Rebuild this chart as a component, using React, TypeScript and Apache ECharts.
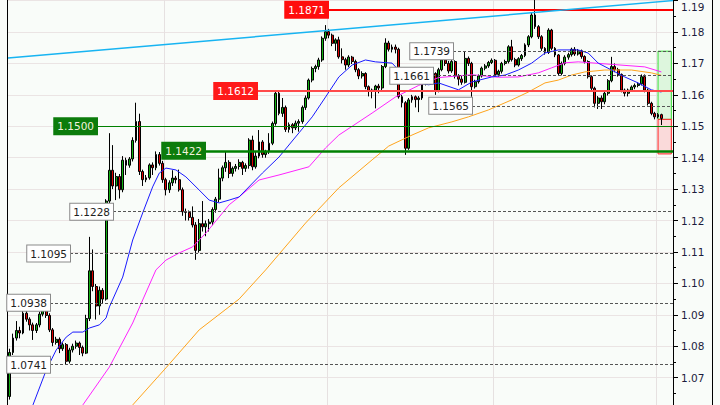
import React, { useEffect, useRef } from 'react';
import * as echarts from 'echarts';

// [open, close, low, high]
const candles: number[][] = [
  [1.0640, 1.0780, 1.0630, 1.0792], [1.0780, 1.0826, 1.0772, 1.0840], [1.0826, 1.0850, 1.0818, 1.0880], [1.0850, 1.0842, 1.0825, 1.0862],
  [1.0842, 1.0905, 1.0838, 1.0915], [1.0905, 1.0886, 1.0878, 1.0915], [1.0886, 1.0868, 1.0850, 1.0892], [1.0868, 1.0850, 1.0820, 1.0875],
  [1.0850, 1.0868, 1.0842, 1.0874], [1.0868, 1.0902, 1.0860, 1.0910], [1.0902, 1.0915, 1.0895, 1.0935], [1.0915, 1.0898, 1.0890, 1.0938],
  [1.0898, 1.0852, 1.0845, 1.0905], [1.0852, 1.0812, 1.0800, 1.0858], [1.0812, 1.0822, 1.0805, 1.0830], [1.0822, 1.0792, 1.0778, 1.0828],
  [1.0792, 1.0805, 1.0785, 1.0812], [1.0805, 1.0752, 1.0741, 1.0810], [1.0752, 1.0788, 1.0745, 1.0795], [1.0788, 1.0800, 1.0780, 1.0808],
  [1.0800, 1.0810, 1.0792, 1.0818], [1.0810, 1.0796, 1.0772, 1.0815], [1.0796, 1.0778, 1.0768, 1.0802], [1.0778, 1.0888, 1.0775, 1.0900],
  [1.0888, 1.1040, 1.0880, 1.1148], [1.1040, 1.0990, 1.0975, 1.1108], [1.0990, 1.0928, 1.0885, 1.0998], [1.0928, 1.0978, 1.0900, 1.0990],
  [1.0978, 1.0950, 1.0935, 1.0985], [1.0950, 1.1262, 1.0945, 1.1268], [1.1262, 1.1360, 1.1255, 1.1478], [1.1360, 1.1310, 1.1300, 1.1440],
  [1.1310, 1.1340, 1.1265, 1.1352], [1.1340, 1.1298, 1.1270, 1.1348], [1.1298, 1.1392, 1.1290, 1.1405], [1.1392, 1.1376, 1.1345, 1.1400],
  [1.1376, 1.1396, 1.1368, 1.1402], [1.1396, 1.1455, 1.1388, 1.1465], [1.1455, 1.1515, 1.1448, 1.1575], [1.1515, 1.1356, 1.1345, 1.1540],
  [1.1356, 1.1330, 1.1310, 1.1362], [1.1330, 1.1336, 1.1322, 1.1345], [1.1336, 1.1377, 1.1330, 1.1382], [1.1377, 1.1368, 1.1345, 1.1385],
  [1.1368, 1.1410, 1.1360, 1.1420], [1.1410, 1.1382, 1.1375, 1.1418], [1.1382, 1.1330, 1.1320, 1.1390], [1.1330, 1.1298, 1.1280, 1.1336],
  [1.1298, 1.1320, 1.1288, 1.1328], [1.1320, 1.1335, 1.1310, 1.1360], [1.1335, 1.1330, 1.1318, 1.1342], [1.1330, 1.1298, 1.1292, 1.1362],
  [1.1298, 1.1228, 1.1215, 1.1305], [1.1228, 1.1226, 1.1200, 1.1238], [1.1226, 1.1210, 1.1200, 1.1232], [1.1210, 1.1186, 1.1178, 1.1245],
  [1.1186, 1.1105, 1.1075, 1.1195], [1.1105, 1.1190, 1.1098, 1.1205], [1.1190, 1.1180, 1.1165, 1.1262], [1.1180, 1.1190, 1.1150, 1.1200],
  [1.1190, 1.1195, 1.1165, 1.1205], [1.1195, 1.1235, 1.1185, 1.1242], [1.1235, 1.1268, 1.1225, 1.1275], [1.1268, 1.1335, 1.1258, 1.1365],
  [1.1335, 1.1368, 1.1325, 1.1375], [1.1368, 1.1385, 1.1355, 1.1420], [1.1385, 1.1350, 1.1335, 1.1392], [1.1350, 1.1366, 1.1340, 1.1372],
  [1.1366, 1.1372, 1.1356, 1.1380], [1.1372, 1.1385, 1.1362, 1.1395], [1.1385, 1.1366, 1.1345, 1.1390], [1.1366, 1.1375, 1.1355, 1.1382],
  [1.1375, 1.1456, 1.1365, 1.1462], [1.1456, 1.1371, 1.1360, 1.1470], [1.1371, 1.1405, 1.1365, 1.1418], [1.1405, 1.1450, 1.1398, 1.1488],
  [1.1450, 1.1410, 1.1400, 1.1456], [1.1410, 1.1419, 1.1400, 1.1425], [1.1419, 1.1446, 1.1412, 1.1478], [1.1446, 1.1509, 1.1440, 1.1515],
  [1.1509, 1.1605, 1.1502, 1.1612], [1.1605, 1.1541, 1.1535, 1.1612], [1.1541, 1.1560, 1.1530, 1.1590], [1.1560, 1.1490, 1.1482, 1.1566],
  [1.1490, 1.1505, 1.1480, 1.1512], [1.1505, 1.1495, 1.1478, 1.1510], [1.1495, 1.1510, 1.1488, 1.1518], [1.1510, 1.1515, 1.1483, 1.1522],
  [1.1515, 1.1560, 1.1508, 1.1566], [1.1560, 1.1590, 1.1552, 1.1598], [1.1590, 1.1647, 1.1585, 1.1652], [1.1647, 1.1684, 1.1640, 1.1690],
  [1.1684, 1.1690, 1.1672, 1.1696], [1.1690, 1.1711, 1.1680, 1.1718], [1.1711, 1.1780, 1.1705, 1.1786], [1.1780, 1.1801, 1.1772, 1.1822],
  [1.1801, 1.1790, 1.1780, 1.1810], [1.1790, 1.1764, 1.1755, 1.1795], [1.1764, 1.1775, 1.1740, 1.1780], [1.1775, 1.1721, 1.1715, 1.1785],
  [1.1721, 1.1712, 1.1700, 1.1748], [1.1712, 1.1695, 1.1680, 1.1718], [1.1695, 1.1720, 1.1688, 1.1726], [1.1720, 1.1706, 1.1698, 1.1724],
  [1.1706, 1.1680, 1.1672, 1.1712], [1.1680, 1.1660, 1.1650, 1.1685], [1.1660, 1.1668, 1.1652, 1.1675], [1.1668, 1.1626, 1.1618, 1.1672],
  [1.1626, 1.1612, 1.1595, 1.1630], [1.1612, 1.1615, 1.1589, 1.1620], [1.1615, 1.1628, 1.1557, 1.1632], [1.1628, 1.1622, 1.1605, 1.1635],
  [1.1622, 1.1690, 1.1615, 1.1695], [1.1690, 1.1765, 1.1685, 1.1780], [1.1765, 1.1745, 1.1738, 1.1772], [1.1745, 1.1752, 1.1735, 1.1760],
  [1.1752, 1.1745, 1.1732, 1.1760], [1.1745, 1.1594, 1.1588, 1.1750], [1.1594, 1.1575, 1.1560, 1.1600], [1.1575, 1.1430, 1.1409, 1.1580],
  [1.1430, 1.1584, 1.1425, 1.1590], [1.1584, 1.1594, 1.1575, 1.1600], [1.1594, 1.1585, 1.1560, 1.1598], [1.1585, 1.1590, 1.1545, 1.1596],
  [1.1590, 1.1637, 1.1584, 1.1642], [1.1637, 1.1679, 1.1630, 1.1685], [1.1679, 1.1660, 1.1655, 1.1684], [1.1660, 1.1668, 1.1650, 1.1674],
  [1.1668, 1.1612, 1.1600, 1.1672], [1.1612, 1.1680, 1.1608, 1.1686], [1.1680, 1.1711, 1.1675, 1.1720], [1.1711, 1.1700, 1.1692, 1.1716],
  [1.1700, 1.1676, 1.1668, 1.1708], [1.1676, 1.1706, 1.1670, 1.1712], [1.1706, 1.1660, 1.1652, 1.1710], [1.1660, 1.1650, 1.1630, 1.1666],
  [1.1650, 1.1640, 1.1632, 1.1660], [1.1640, 1.1716, 1.1636, 1.1737], [1.1716, 1.1700, 1.1692, 1.1722], [1.1700, 1.1626, 1.1594, 1.1705],
  [1.1626, 1.1642, 1.1620, 1.1648], [1.1642, 1.1660, 1.1636, 1.1665], [1.1660, 1.1685, 1.1655, 1.1690], [1.1685, 1.1692, 1.1678, 1.1698],
  [1.1692, 1.1703, 1.1686, 1.1708], [1.1703, 1.1710, 1.1698, 1.1716], [1.1710, 1.1665, 1.1660, 1.1714], [1.1665, 1.1675, 1.1658, 1.1680],
  [1.1675, 1.1700, 1.1668, 1.1705], [1.1700, 1.1706, 1.1694, 1.1712], [1.1706, 1.1753, 1.1700, 1.1758], [1.1753, 1.1712, 1.1706, 1.1775],
  [1.1712, 1.1695, 1.1688, 1.1718], [1.1695, 1.1715, 1.1690, 1.1720], [1.1715, 1.1725, 1.1708, 1.1730], [1.1725, 1.1759, 1.1720, 1.1764],
  [1.1759, 1.1785, 1.1752, 1.1790], [1.1785, 1.1854, 1.1780, 1.1862], [1.1854, 1.1817, 1.1810, 1.1910], [1.1817, 1.1785, 1.1778, 1.1822],
  [1.1785, 1.1748, 1.1740, 1.1790], [1.1748, 1.1735, 1.1728, 1.1752], [1.1735, 1.1806, 1.1730, 1.1812], [1.1806, 1.1748, 1.1742, 1.1810],
  [1.1748, 1.1727, 1.1720, 1.1752], [1.1727, 1.1668, 1.1660, 1.1730], [1.1668, 1.1700, 1.1662, 1.1706], [1.1700, 1.1720, 1.1694, 1.1726],
  [1.1720, 1.1728, 1.1712, 1.1734], [1.1728, 1.1745, 1.1722, 1.1750], [1.1745, 1.1730, 1.1724, 1.1752], [1.1730, 1.1740, 1.1725, 1.1746],
  [1.1740, 1.1722, 1.1715, 1.1744], [1.1722, 1.1706, 1.1700, 1.1726], [1.1706, 1.1658, 1.1652, 1.1710], [1.1658, 1.1621, 1.1615, 1.1662],
  [1.1621, 1.1573, 1.1560, 1.1626], [1.1573, 1.1590, 1.1555, 1.1596], [1.1590, 1.1578, 1.1555, 1.1598], [1.1578, 1.1605, 1.1570, 1.1610],
  [1.1605, 1.1645, 1.1598, 1.1650], [1.1645, 1.1690, 1.1640, 1.1721], [1.1690, 1.1680, 1.1672, 1.1700], [1.1680, 1.1665, 1.1658, 1.1686],
  [1.1665, 1.1615, 1.1608, 1.1668], [1.1615, 1.1605, 1.1595, 1.1620], [1.1605, 1.1615, 1.1595, 1.1620], [1.1615, 1.1625, 1.1610, 1.1630],
  [1.1625, 1.1630, 1.1618, 1.1636], [1.1630, 1.1635, 1.1624, 1.1640], [1.1635, 1.1658, 1.1630, 1.1665], [1.1658, 1.1615, 1.1608, 1.1665],
  [1.1615, 1.1573, 1.1566, 1.1620], [1.1573, 1.1541, 1.1535, 1.1578], [1.1541, 1.1530, 1.1522, 1.1546], [1.1530, 1.1537, 1.1525, 1.1542],
  [1.1537, 1.1525, 1.1504, 1.1540],
];

const slotCount = 200;

// moving averages, sampled along the bars (bar index, price)
const blueIdx = [7, 11, 14, 17, 19, 22, 24, 27, 29, 30, 34, 37, 40, 43, 45, 47, 50, 53, 57, 60, 63, 66, 69, 76, 81, 87, 91, 95, 99, 103, 107, 110, 115, 119, 123, 126, 129, 135, 139, 145, 149, 153, 157, 161, 165, 171, 174, 177, 181, 185, 189, 193, 196];
const blueVal = [1.0613, 1.0724, 1.0788, 1.0829, 1.0845, 1.0845, 1.0858, 1.0868, 1.0890, 1.0925, 1.1020, 1.1138, 1.1224, 1.1307, 1.1351, 1.1367, 1.1361, 1.1339, 1.1297, 1.1265, 1.1256, 1.1265, 1.1275, 1.1351, 1.1402, 1.1479, 1.1530, 1.1593, 1.1657, 1.1695, 1.1711, 1.1705, 1.1701, 1.1657, 1.1638, 1.1632, 1.1638, 1.1616, 1.1641, 1.1657, 1.1663, 1.1679, 1.1701, 1.1733, 1.1743, 1.1743, 1.1733, 1.1701, 1.1679, 1.1657, 1.1638, 1.1616, 1.1609];
const magentaIdx = [22, 30, 37, 40, 44, 47, 51, 55, 59, 63, 66, 69, 75, 81, 90, 95, 99, 103, 109, 116, 123, 129, 139, 147, 153, 159, 163, 167, 171, 181, 191, 196];
const magentaVal = [1.0613, 1.0734, 1.0874, 1.0947, 1.1043, 1.1074, 1.1097, 1.1116, 1.1160, 1.1211, 1.1250, 1.1275, 1.1329, 1.1345, 1.1371, 1.1431, 1.1472, 1.1500, 1.1542, 1.1593, 1.1630, 1.1655, 1.1664, 1.1656, 1.1657, 1.1670, 1.1686, 1.1702, 1.1705, 1.1697, 1.1689, 1.1673];
const orangeIdx = [37, 47, 57, 69, 77, 89, 99, 109, 114, 121, 126, 133, 138, 144, 151, 156, 161, 165, 169, 173, 179, 187, 193, 196];
const orangeVal = [1.0613, 1.0731, 1.0852, 1.0950, 1.1043, 1.1192, 1.1304, 1.1393, 1.1437, 1.1472, 1.1495, 1.1514, 1.1530, 1.1552, 1.1584, 1.1609, 1.1638, 1.1647, 1.1663, 1.1673, 1.1679, 1.1679, 1.1670, 1.1662];

// horizontal levels
const levels = [1.1871, 1.1612, 1.1500, 1.1422, 1.1739, 1.1661, 1.1565, 1.1228, 1.1095, 1.0938, 1.0741];
const levelKinds = ['red', 'redLight', 'green', 'greenBold', 'dash', 'dash', 'dash', 'dash', 'dash', 'dash', 'dash'];
const levelStartX = [328, 257, 97, 205, 453, 433, 472, 113, 70, 50, 50];

const trendLine = [1.1717, 1.1900];
const greenZone = [1.1739, 1.1522];
const redZone = [1.1522, 1.1412];

const yMin = 1.06;
const yMax = 1.20;
const yStep = 0.01;
const vGridSlots = [47, 96, 146, 195];

const PLOT_LEFT = 8;
const PLOT_RIGHT = 673;
const FONT = 'DejaVu Sans';

const kindStyle: Record<string, any> = {
  red: { line: { color: '#ff0000', width: 2, type: 'solid' }, bg: '#ff0d0d', fg: '#ffffff', border: '#ff0d0d' },
  redLight: { line: { color: '#ff4a4a', width: 2, type: 'solid' }, bg: '#ff1a1a', fg: '#ffffff', border: '#ff1a1a' },
  green: { line: { color: '#008000', width: 1, type: 'solid' }, bg: '#0c7c0c', fg: '#f2f2dc', border: '#0c7c0c' },
  greenBold: { line: { color: '#008000', width: 2.5, type: 'solid' }, bg: '#0c7c0c', fg: '#f2f2dc', border: '#0c7c0c' },
  dash: { line: { color: '#555555', width: 1, type: [3, 2] }, bg: '#ffffff', fg: '#222222', border: '#8a8a8a' },
};

function sparse(idx: number[], val: number[]): (number | null)[] {
  const arr: (number | null)[] = new Array(slotCount).fill(null);
  idx.forEach((i, k) => { arr[i] = val[k]; });
  return arr;
}

export default function App() {
  const ref = useRef<HTMLDivElement>(null);

  useEffect(() => {
    if (!ref.current) return;
    const chart = echarts.init(ref.current, null, { renderer: 'svg' });
    const slots = Array.from({ length: slotCount }, (_, i) => String(i));
    const lastSlot = String(slotCount - 1);

    const levelLines = levels.map((v, k) => {
      const st = kindStyle[levelKinds[k]];
      return [
        {
          xAxis: '0', yAxis: v, x: levelStartX[k],
          lineStyle: st.line,
          label: {
            show: true, position: 'start', distance: 0, formatter: v.toFixed(4),
            backgroundColor: st.bg, color: st.fg, borderColor: st.border, borderWidth: 1,
            padding: [2, 3, 1, 3], fontSize: 10.5, fontFamily: FONT, lineHeight: 13,
          },
        },
        { xAxis: lastSlot, yAxis: v, x: PLOT_RIGHT },
      ];
    });

    const trend = [
      { xAxis: '0', yAxis: trendLine[0], x: PLOT_LEFT, lineStyle: { color: '#17b4f2', width: 1.5, type: 'solid' }, label: { show: false } },
      { xAxis: lastSlot, yAxis: trendLine[1], x: PLOT_RIGHT },
    ];

    const option: any = {
      animation: false,
      backgroundColor: '#f9fcf9',
      grid: {
        left: PLOT_LEFT, right: 720 - PLOT_RIGHT, top: -30.83, height: 439.88,
        containLabel: false, outerBoundsMode: 'none',
      },
      xAxis: {
        type: 'category', data: slots, boundaryGap: true,
        axisLine: { show: false }, axisTick: { show: false }, axisLabel: { show: false },
        splitLine: {
          show: true,
          interval: (index: number) => vGridSlots.includes(index),
          lineStyle: { color: '#e6e1e1', width: 1 },
        },
      },
      yAxis: {
        type: 'value', position: 'right', min: yMin, max: yMax, interval: yStep,
        axisLine: { show: true, lineStyle: { color: '#000000', width: 1 } },
        axisTick: { show: true, length: 5, lineStyle: { color: '#000000' } },
        minorTick: { show: true, splitNumber: 2, length: 3, lineStyle: { color: '#000000' } },
        minorSplitLine: { show: false },
        axisLabel: {
          show: true, margin: 8, color: '#1c1c3c', fontSize: 10.5, fontFamily: FONT,
          showMinLabel: false, showMaxLabel: false,
          formatter: (val: number) => {
            const s = val.toFixed(2);
            return s === '1.19' ? `{top|${s}}` : s;
          },
          rich: { top: { padding: [13, 0, 0, 0], color: '#1c1c3c', fontSize: 10.5, fontFamily: FONT } },
        },
        splitLine: { show: true, lineStyle: { color: '#ebe4e4', width: 1 } },
      },
      series: [
        {
          type: 'candlestick',
          data: candles,
          barWidth: 2.4,
          itemStyle: {
            color: '#12b012', color0: '#dd0000',
            borderColor: '#000000', borderColor0: '#000000', borderWidth: 1,
          },
          emphasis: { disabled: true },
          markArea: {
            silent: true,
            data: [
              [
                { xAxis: '195', yAxis: greenZone[0], itemStyle: { color: '#ddf6dd', borderColor: '#33dd33', borderWidth: 1 } },
                { xAxis: lastSlot, yAxis: greenZone[1] },
              ],
              [
                { xAxis: '195', yAxis: redZone[0], itemStyle: { color: '#fadada', borderColor: '#ff2020', borderWidth: 1 } },
                { xAxis: lastSlot, yAxis: redZone[1] },
              ],
            ],
          },
          markLine: {
            silent: true,
            symbol: ['none', 'none'],
            emphasis: { disabled: true },
            data: [...levelLines, trend],
          },
        },
        {
          type: 'line', data: sparse(orangeIdx, orangeVal), connectNulls: true, showSymbol: false,
          lineStyle: { color: '#ffa41c', width: 1 }, emphasis: { disabled: true },
        },
        {
          type: 'line', data: sparse(magentaIdx, magentaVal), connectNulls: true, showSymbol: false,
          lineStyle: { color: '#ff22ff', width: 1 }, emphasis: { disabled: true },
        },
        {
          type: 'line', data: sparse(blueIdx, blueVal), connectNulls: true, showSymbol: false,
          lineStyle: { color: '#1a1aff', width: 1 }, emphasis: { disabled: true },
        },
      ],
      graphic: [
        { type: 'line', shape: { x1: 7.5, y1: 0, x2: 7.5, y2: 405 }, style: { stroke: '#000000', lineWidth: 1 } },
        { type: 'line', shape: { x1: 712.5, y1: 0, x2: 712.5, y2: 405 }, style: { stroke: '#000000', lineWidth: 1 } },
      ],
    };

    chart.setOption(option);
    return () => chart.dispose();
  }, []);

  return <div ref={ref} style={{ position: 'fixed', left: 0, top: 0, width: 720, height: 405 }} />;
}
